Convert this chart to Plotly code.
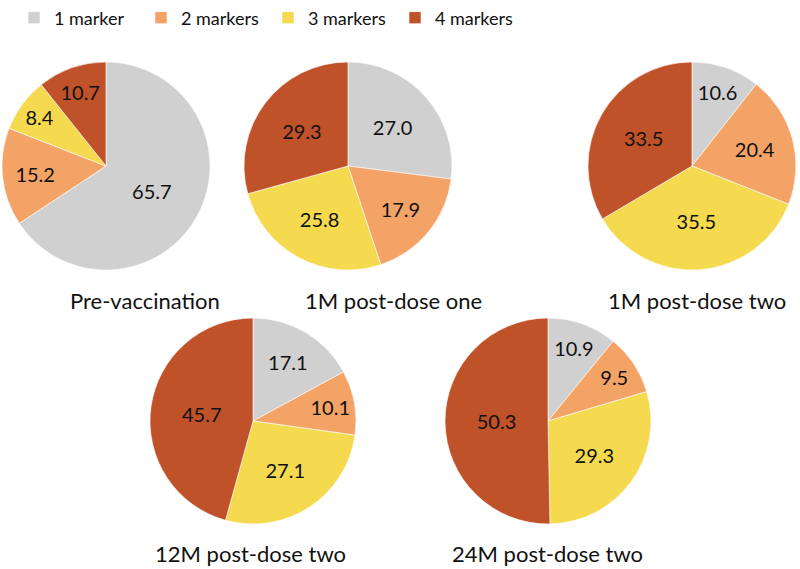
import plotly.graph_objects as go

categories = ["1 marker", "2 markers", "3 markers", "4 markers"]
colors = ["#D0D0D0", "#F4A366", "#F5D94E", "#C0522A"]
titles = ["Pre-vaccination", "1M post-dose one", "1M post-dose two",
          "12M post-dose two", "24M post-dose two"]
pre_vacc = [65.7, 15.2, 8.4, 10.7]
m1_dose1 = [27.0, 17.9, 25.8, 29.3]
m1_dose2 = [10.6, 20.4, 35.5, 33.5]
m12_dose2 = [17.1, 10.1, 27.1, 45.7]
m24_dose2 = [10.9, 9.5, 29.3, 50.3]
series = [pre_vacc, m1_dose1, m1_dose2, m12_dose2, m24_dose2]

W, H = 800, 569
# (center_x, center_y, radius) in pixels
geo = [(106, 166, 104), (348, 166, 104), (692, 166, 104),
       (253, 421, 103), (548, 421, 103)]
title_pos = [(145, 300), (393, 300), (697, 300), (251, 553), (547, 553)]

FONT = "Lato, Carlito, Calibri, sans-serif"

fig = go.Figure()
for i, (vals, (cx, cy, r)) in enumerate(zip(series, geo)):
    fig.add_trace(go.Pie(
        labels=categories, values=vals, sort=False, direction="clockwise",
        rotation=0,
        marker=dict(colors=colors, line=dict(color="white", width=0.6)),
        texttemplate="%{value:.1f}", textposition="inside",
        insidetextorientation="horizontal",
        textfont=dict(family=FONT, size=20, color="#111111"),
        domain=dict(x=[(cx - r) / W, (cx + r) / W],
                    y=[1 - (cy + r) / H, 1 - (cy - r) / H]),
        showlegend=(i == 0), hoverinfo="label+value",
    ))

for t, (x, y) in zip(titles, title_pos):
    fig.add_annotation(text=t, x=x / W, y=1 - y / H, xref="paper", yref="paper",
                       showarrow=False, xanchor="center", yanchor="middle",
                       font=dict(family=FONT, size=22, color="#111111"))

fig.update_layout(
    width=W, height=H, margin=dict(l=0, r=0, t=0, b=0, autoexpand=False),
    paper_bgcolor="white", plot_bgcolor="white",
    font=dict(family=FONT, size=20, color="#111111"),
    legend=dict(orientation="h", x=14 / W, y=1.001, xanchor="left", yanchor="top",
                entrywidth=82, entrywidthmode="pixels",
                font=dict(family=FONT, size=18, color="#111111"),
                traceorder="normal"),
)

fig.write_html("out.html", config={"displayModeBar": False},
               post_script="document.body.style.margin='0px';")
